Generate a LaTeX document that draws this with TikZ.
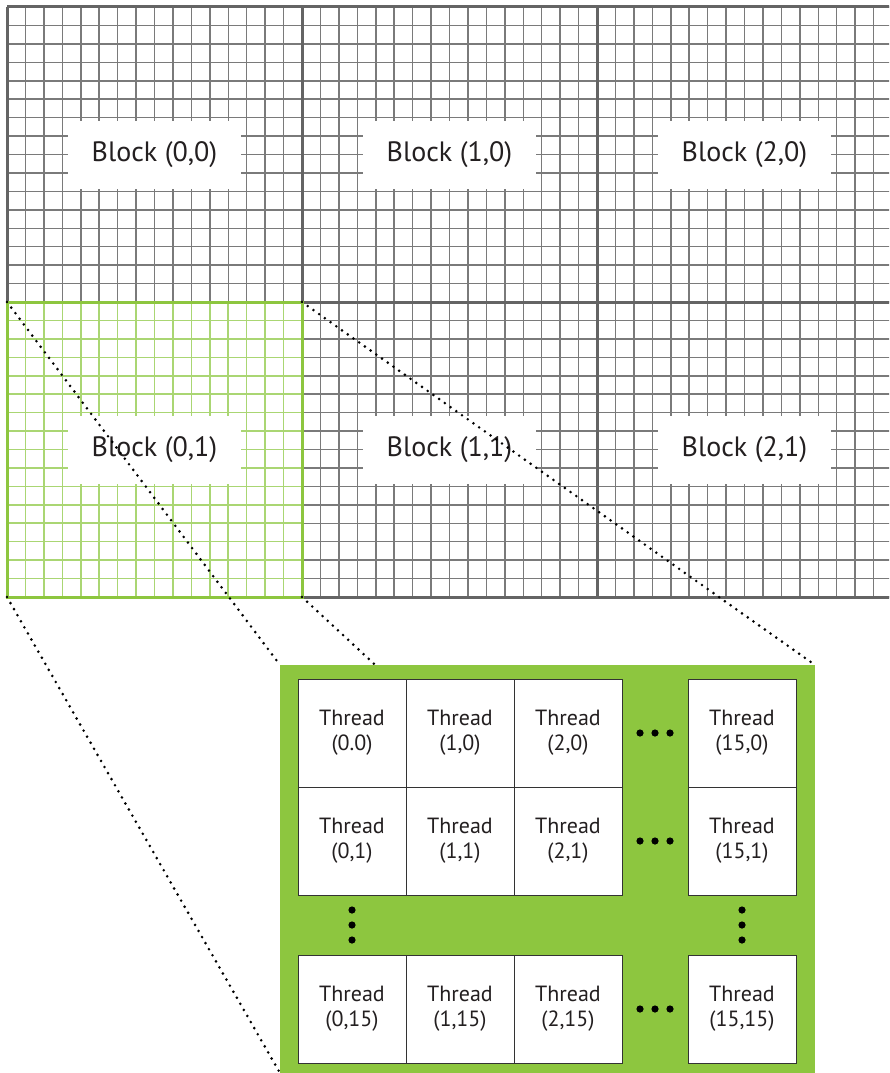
\documentclass[tikz,border=0pt]{standalone}
\usepackage{fontspec}
\setmainfont{PT Sans}
\usetikzlibrary{calc}
\definecolor{nvgreen}{RGB}{141,198,63}
\definecolor{litegreen}{RGB}{170,214,115}
\definecolor{gridgray}{RGB}{122,122,122}
\definecolor{edgegray}{RGB}{100,100,100}
\definecolor{textgray}{RGB}{35,31,32}

\begin{document}
\begin{tikzpicture}[x=1pt,y=-1pt,
  cellline/.style={gridgray,line width=1.5pt},
  greenline/.style={litegreen,line width=1.6pt},
  blockedge/.style={edgegray,line width=3pt},
  blocklabel/.style={fill=white,minimum width=173pt,minimum height=68pt,inner sep=0pt,
    text=textgray,font=\fontsize{28}{30}\selectfont},
  threadbox/.style={draw=black!80,line width=1pt,fill=white,minimum size=108pt,inner sep=0pt,
    align=center,text=textgray,font=\fontsize{22}{25}\selectfont},
  zoomline/.style={black,line width=2.9pt,line cap=round,dash pattern=on 0pt off 7pt},
  dotmark/.style={fill=black}]
\useasboundingbox (0,0) rectangle (889,1073);
\clip (0,0) rectangle (889,1073);

% grid of blocks, 16x16 cells each
\foreach \k in {0,...,48}
  \draw[cellline] ({7+\k*18.4375},7) -- ({7+\k*18.4375},597);
\foreach \k in {0,...,32}
  \draw[cellline] (7,{7+\k*18.4375}) -- (892,{7+\k*18.4375});

% highlighted block (0,1)
\fill[white] (7,302) rectangle (302,597);
\foreach \k in {1,...,15} {
  \draw[greenline] ({7+\k*18.4375},302) -- ({7+\k*18.4375},597);
  \draw[greenline] (7,{302+\k*18.4375}) -- (302,{302+\k*18.4375});
}

\foreach \x in {7,302,597,892}
  \draw[blockedge] (\x,7) -- (\x,597);
\foreach \y in {7,302,597}
  \draw[blockedge] (7,\y) -- (892,\y);
\draw[nvgreen,line width=3pt] (7,302) rectangle (302,597);

\foreach \i in {0,1,2}
  \foreach \j in {0,1}
    \node[blocklabel] (blk\i\j) at ({154.5+295*\i},{154.5+295*\j}) {\raisebox{-2pt}{Block (\i,\j)}};

% zoom lines
\coordinate (gnw) at (7,302);
\coordinate (gne) at (302,302);
\coordinate (gsw) at (7,597);
\coordinate (gse) at (302,597);
\coordinate (pnw) at (280,665);
\coordinate (pne) at (815,665);
\coordinate (psw) at (280,1073);
\coordinate (pse) at (815,1073);
\draw[zoomline] (gnw) -- (pnw);
\draw[zoomline] (gne) -- (pne);
\draw[zoomline] (gsw) -- (psw);
\draw[zoomline] (gse) -- (pse);

\fill[nvgreen] (pnw) rectangle (pse);

% threads
\foreach \c/\x in {0/352,1/460,2/568,15/742}
  \foreach \r/\y in {0/733,1/841,15/1009}
    \node[threadbox] (th\c-\r) at (\x,\y) {Thread\\(\c,\r)};
\node[threadbox] at (th0-0) {Thread\\(0.0)};

\foreach \r in {0,1,15}
  \foreach \d in {-15,0,15}
    \fill[dotmark] ($(th2-\r.east)!0.5!(th15-\r.west)+(\d,0)$) circle (3.6pt);
\foreach \c in {0,15}
  \foreach \d in {-15,0,15}
    \fill[dotmark] ($(th\c-1.south)!0.5!(th\c-15.north)+(0,\d)$) circle (3.6pt);
\end{tikzpicture}
\end{document}
